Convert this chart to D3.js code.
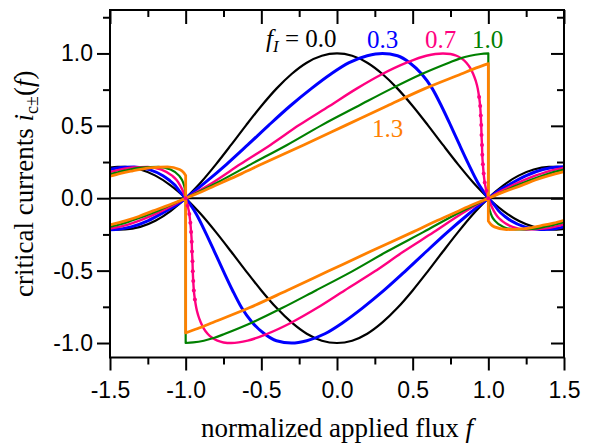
<!DOCTYPE html>
<html>
<head>
<meta charset="utf-8">
<script src="https://cdn.jsdelivr.net/npm/d3@7"></script>
<style>
  body { margin: 0; background: #fff; }
  .tick text { font-family: "Liberation Sans", Arial, sans-serif; font-size: 23px; fill: #000; }
  .tick line { stroke: #000; stroke-width: 2px; }
  .ttl { font-family: "Liberation Serif", "Times New Roman", serif; font-size: 27px; fill: #000; }
  .lbl { font-family: "Liberation Serif", "Times New Roman", serif; font-size: 25px; }
</style>
</head>
<body>
<div id="chart"></div>
<script>
// ---- data: [f, i_c] pairs, each branch split in runs ----
var fLabels = ["0.0", "0.3", "0.7", "1.0", "1.3"];
var colors = ["#000000", "#0000ff", "#ff0080", "#008000", "#ff8000"];
var widths = [2.2, 3, 2.4, 2.2, 2.8];

var xMajor = [-1.5, -1.0, -0.5, 0.0, 0.5, 1.0, 1.5];
var xMinor = [-1.25, -0.75, -0.25, 0.25, 0.75, 1.25];
var yMajor = [-1.0, -0.5, 0.0, 0.5, 1.0];
var yMinor = [-0.75, -0.25, 0.25, 0.75, 1.25];

var blackUp = [
  [[-1.5,.212],[-1.45,.217],[-1.4,.216],[-1.3,.198],[-1.2,.156],[-1.1,.089],[-1.05,.047],[-1,0]],
  [[-1,0],[-0.9,.109],[-0.8,.234],[-0.7,.368],[-0.6,.505],[-0.5,.637],[-0.4,.757],[-0.3,.858],[-0.2,.936],[-0.1,.984],[0,1],[0.1,.984],[0.2,.936],[0.3,.858],[0.4,.757],[0.5,.637],[0.6,.505],[0.7,.368],[0.8,.234],[0.9,.109],[1,0]],
  [[1,0],[1.05,.047],[1.1,.089],[1.2,.156],[1.3,.198],[1.4,.216],[1.45,.217],[1.5,.212]]
];
var blackLo = [
  [[-1.5,-.212],[-1.45,-.217],[-1.4,-.216],[-1.3,-.198],[-1.2,-.156],[-1.1,-.089],[-1.05,-.047],[-1,0]],
  [[-1,0],[-0.9,-.109],[-0.8,-.234],[-0.7,-.368],[-0.6,-.505],[-0.5,-.637],[-0.4,-.757],[-0.3,-.858],[-0.2,-.936],[-0.1,-.984],[0,-1],[0.1,-.984],[0.2,-.936],[0.3,-.858],[0.4,-.757],[0.5,-.637],[0.6,-.505],[0.7,-.368],[0.8,-.234],[0.9,-.109],[1,0]],
  [[1,0],[1.05,-.047],[1.1,-.089],[1.2,-.156],[1.3,-.198],[1.4,-.216],[1.45,-.217],[1.5,-.212]]
];

var blueUp = [
  [[-1.5,.198],[-1.45,.209],[-1.4,.214],[-1.34,.216],[-1.24,.198],[-1.15,.156],[-1.11,.126],[-1.07,.089],[-1.04,.047],[-1,0]],
  [[-1,0],[-0.87,.109],[-0.73,.234],[-0.59,.368],[-0.45,.505],[-0.31,.637],[-0.17,.757],[-0.04,.858],[0.08,.936],[0.2,.984],[0.3,1],[0.4,.984],[0.48,.936],[0.56,.858],[0.63,.757],[0.69,.637],[0.75,.505],[0.81,.368],[0.87,.234],[0.93,.109],[1,0]],
  [[1,0],[1.06,.047],[1.13,.089],[1.25,.156],[1.36,.198],[1.46,.216],[1.5,.217]]
];
var blueLo = [
  [[-1.5,-.217],[-1.46,-.216],[-1.36,-.198],[-1.25,-.156],[-1.13,-.089],[-1.06,-.047],[-1,0]],
  [[-1,0],[-0.93,-.109],[-0.87,-.234],[-0.81,-.368],[-0.75,-.505],[-0.69,-.637],[-0.63,-.757],[-0.56,-.858],[-0.48,-.936],[-0.4,-.984],[-0.3,-1],[-0.2,-.984],[-0.08,-.936],[0.04,-.858],[0.17,-.757],[0.31,-.637],[0.45,-.505],[0.59,-.368],[0.73,-.234],[0.87,-.109],[1,0]],
  [[1,0],[1.04,-.047],[1.07,-.089],[1.11,-.126],[1.15,-.156],[1.24,-.198],[1.34,-.216],[1.4,-.214],[1.45,-.209],[1.5,-.198]]
];

var pinkUp = [
  [[-1.5,.18],[-1.47,.189],[-1.35,.212],[-1.25,.216],[-1.16,.198],[-1.09,.156],[-1.06,.126],[-1.037,.089],[-1.017,.047],[-1,0]],
  [[-1,0],[-0.82,.109],[-0.64,.234],[-0.44,.368],[-0.25,.505],[-0.05,.637],[0.13,.757],[0.3,.858],[0.46,.936],[0.59,.984],[0.7,1],[0.75,.996],[0.79,.984],[0.825,.964],[0.855,.936],[0.88,.9],[0.9,.858],[0.917,.81],[0.93,.757],[0.939,.699],[0.946,.637],[0.95,.572],[0.953,.505],[0.955,.436],[0.958,.368],[0.96,.3],[0.964,.234],[0.969,.17],[0.976,.109],[0.987,.052],[1,0]],
  [[1,0],[1.08,.047],[1.16,.089],[1.31,.156],[1.44,.198],[1.5,.21]]
];
var pinkLo = [
  [[-1.5,-.21],[-1.44,-.198],[-1.31,-.156],[-1.16,-.089],[-1.08,-.047],[-1,0]],
  [[-1,0],[-0.987,-.052],[-0.976,-.109],[-0.969,-.17],[-0.964,-.234],[-0.96,-.3],[-0.958,-.368],[-0.955,-.436],[-0.953,-.505],[-0.95,-.572],[-0.946,-.637],[-0.939,-.699],[-0.93,-.757],[-0.917,-.81],[-0.9,-.858],[-0.88,-.9],[-0.855,-.936],[-0.825,-.964],[-0.79,-.984],[-0.75,-.996],[-0.7,-1],[-0.59,-.984],[-0.46,-.936],[-0.3,-.858],[-0.13,-.757],[0.05,-.637],[0.25,-.505],[0.44,-.368],[0.64,-.234],[0.82,-.109],[1,0]],
  [[1,0],[1.017,-.047],[1.037,-.089],[1.06,-.126],[1.09,-.156],[1.16,-.198],[1.25,-.216],[1.35,-.212],[1.47,-.189],[1.5,-.18]]
];

var greenUp = [
  [[-1.5,.165],[-1.41,.189],[-1.29,.212],[-1.18,.216],[-1.1,.198],[-1.044,.156],[-1.024,.126],[-1.011,.089],[-1.003,.047],[-1,0]],
  [[-1,0],[-0.79,.109],[-0.57,.234],[-0.33,.368],[-0.1,.505],[0.14,.637],[0.36,.757],[0.56,.858],[0.74,.936],[0.81,.964],[0.88,.984],[0.95,.996],[1,1]],
  [[1,1],[1,0]],
  [[1,0],[1.1,.047],[1.19,.089],[1.36,.156],[1.43,.18],[1.5,.198]]
];
var greenLo = [
  [[-1.5,-.198],[-1.43,-.18],[-1.36,-.156],[-1.19,-.089],[-1.1,-.047],[-1,0]],
  [[-1,0],[-1,-1]],
  [[-1,-1],[-0.95,-.996],[-0.88,-.984],[-0.81,-.964],[-0.74,-.936],[-0.56,-.858],[-0.36,-.757],[-0.14,-.637],[0.1,-.505],[0.33,-.368],[0.57,-.234],[0.79,-.109],[1,0]],
  [[1,0],[1.003,-.047],[1.011,-.089],[1.024,-.126],[1.044,-.156],[1.1,-.198],[1.18,-.216],[1.29,-.212],[1.41,-.189],[1.5,-.165]]
];

var orangeUp = [
  [[-1.5,.152],[-1.43,.172],[-1.35,.189],[-1.22,.212],[-1.12,.216],[-1.04,.198],[-1.016,.18],[-1,.157]],
  [[-1,.157],[-1,0]],
  [[-1,0],[-0.88,.052],[-0.76,.109],[-0.63,.17],[-0.5,.234],[-0.22,.368],[0.06,.505],[0.33,.637],[0.58,.757],[0.82,.858],[0.92,.9],[1,.93]],
  [[1,.93],[1,0]],
  [[1,0],[1.11,.047],[1.22,.089],[1.31,.126],[1.4,.156],[1.5,.184]]
];
var orangeLo = [
  [[-1.5,-.184],[-1.4,-.156],[-1.31,-.126],[-1.22,-.089],[-1.11,-.047],[-1,0]],
  [[-1,0],[-1,-.93]],
  [[-1,-.93],[-0.92,-.9],[-0.82,-.858],[-0.58,-.757],[-0.33,-.637],[-0.06,-.505],[0.22,-.368],[0.5,-.234],[0.63,-.17],[0.76,-.109],[0.88,-.052],[1,0]],
  [[1,0],[1,-.157]],
  [[1,-.157],[1.016,-.18],[1.04,-.198],[1.12,-.216],[1.22,-.212],[1.35,-.189],[1.43,-.172],[1.5,-.152]]
];

var curves = [
  [blackUp, blackLo], [blueUp, blueLo], [pinkUp, pinkLo], [greenUp, greenLo], [orangeUp, orangeLo]
];

// ---- layout ----
var W = 593, H = 445;
var margin = { top: 10, right: 29, bottom: 87.5, left: 110 };
var width = W - margin.left - margin.right,
    height = H - margin.top - margin.bottom;

var svg = d3.select("#chart").append("svg")
  .attr("width", W).attr("height", H)
  .append("g")
  .attr("transform", "translate(" + margin.left + "," + margin.top + ")");

var x = d3.scaleLinear().domain([-1.5, 1.5]).range([0, width]);
var y = d3.scaleLinear().domain([-1.1, 1.3]).range([height, 0]);

var fmt = function (d) { return d.toFixed(1); };

// axes: left / bottom outward with labels, top / right inward
svg.append("g").call(d3.axisLeft(y).tickValues(yMajor).tickSize(13).tickPadding(4).tickFormat(fmt));
svg.append("g").call(d3.axisLeft(y).tickValues(yMinor).tickSize(7).tickFormat(""));
svg.append("g").attr("transform", "translate(0," + height + ")")
  .call(d3.axisBottom(x).tickValues(xMajor).tickSize(13).tickPadding(11).tickFormat(fmt));
svg.append("g").attr("transform", "translate(0," + height + ")")
  .call(d3.axisBottom(x).tickValues(xMinor).tickSize(7).tickFormat(""));
svg.append("g").attr("transform", "translate(" + width + ",0)")
  .call(d3.axisRight(y).tickValues(yMajor).tickSize(-13).tickFormat(""));
svg.append("g").attr("transform", "translate(" + width + ",0)")
  .call(d3.axisRight(y).tickValues(yMinor).tickSize(-7).tickFormat(""));
svg.append("g").call(d3.axisTop(x).tickValues(xMajor).tickSize(-14).tickFormat(""));
svg.append("g").call(d3.axisTop(x).tickValues(xMinor).tickSize(-7).tickFormat(""));
svg.selectAll(".domain").remove();

// zero line
svg.append("line")
  .attr("x1", x(-1.5)).attr("x2", x(1.5))
  .attr("y1", y(0)).attr("y2", y(0))
  .attr("stroke", "#000").attr("stroke-width", 1.8);

// curves
var line = d3.line()
  .x(function (d) { return x(d[0]); })
  .y(function (d) { return y(d[1]); })
  .curve(d3.curveMonotoneX);

function branchPath(runs) {
  return runs.map(function (r, k) {
    var s = line(r);
    return k ? s.replace(/^M/, "L") : s;
  }).join("");
}

curves.forEach(function (c, k) {
  c.forEach(function (runs) {
    svg.append("path")
      .attr("d", branchPath(runs))
      .attr("fill", "none")
      .attr("stroke", colors[k])
      .attr("stroke-width", widths[k])
      .attr("stroke-linejoin", "round");
  });
});

// pink symbols, visible only where the curve is steep
var pinkDots = pinkUp[1].filter(function (d) { return d[0] > 0.93; })
  .concat(pinkLo[1].filter(function (d) { return d[0] < -0.93; }));
svg.selectAll(".pdot").data(pinkDots).enter().append("circle")
  .attr("cx", function (d) { return x(d[0]); })
  .attr("cy", function (d) { return y(d[1]); })
  .attr("r", 2)
  .attr("fill", colors[2]);

// frame
svg.append("rect")
  .attr("width", width).attr("height", height)
  .attr("fill", "none").attr("stroke", "#000").attr("stroke-width", 2);

// curve labels
var lab = svg.append("text").attr("class", "lbl").attr("x", 156).attr("y", 37).attr("fill", colors[0]);
lab.append("tspan").style("font-style", "italic").text("f");
lab.append("tspan").style("font-style", "italic").style("font-size", "17px").attr("dy", 5).text("I");
lab.append("tspan").attr("dy", -5).text(" = " + fLabels[0]);

svg.append("text").attr("class", "lbl").attr("x", 257).attr("y", 38).attr("fill", colors[1]).text(fLabels[1]);
svg.append("text").attr("class", "lbl").attr("x", 315).attr("y", 38).attr("fill", colors[2]).text(fLabels[2]);
svg.append("text").attr("class", "lbl").attr("x", 362).attr("y", 38).attr("fill", colors[3]).text(fLabels[3]);
svg.append("text").attr("class", "lbl").attr("x", 262).attr("y", 127).attr("fill", colors[4]).text(fLabels[4]);

// axis titles
var xt = svg.append("text").attr("class", "ttl")
  .attr("x", width / 2).attr("y", height + 79).attr("text-anchor", "middle");
xt.append("tspan").text("normalized applied flux ");
xt.append("tspan").style("font-style", "italic").text("f");

var yt = svg.append("text").attr("class", "ttl")
  .attr("transform", "translate(" + (-77) + "," + (height / 2) + ") rotate(-90)")
  .attr("text-anchor", "middle");
yt.append("tspan").text("critical currents ");
yt.append("tspan").style("font-style", "italic").text("i");
yt.append("tspan").style("font-size", "18px").attr("dy", 5).text("c\u00b1");
yt.append("tspan").attr("dy", -5).text("(");
yt.append("tspan").style("font-style", "italic").text("f");
yt.append("tspan").text(")");
</script>
</body>
</html>
